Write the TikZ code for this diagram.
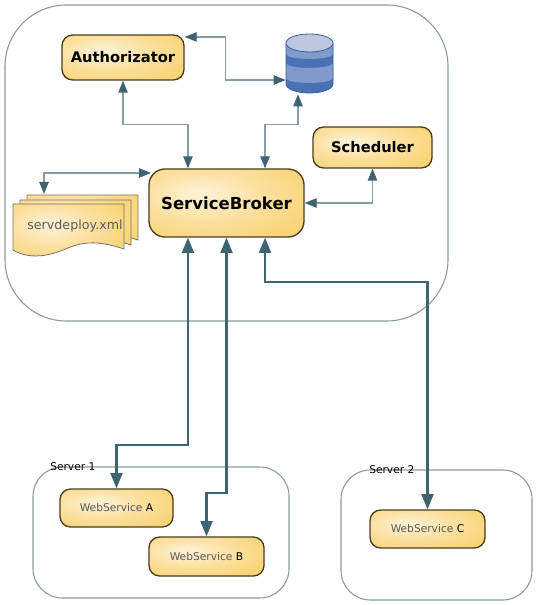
\documentclass[tikz,border=0pt]{standalone}
\usepackage{fontspec}
\setmainfont{DejaVu Sans}
\usetikzlibrary{arrows.meta,calc}
\definecolor{goldin}{HTML}{FDF0CF}
\definecolor{goldmid}{HTML}{FBE0A0}
\definecolor{goldout}{HTML}{F9D475}
\definecolor{boxedge}{HTML}{4A3D1E}
\definecolor{linkcol}{HTML}{3E6371}
\definecolor{thincol}{HTML}{8A9CA6}
\definecolor{frameedge}{HTML}{8A9A9A}
\definecolor{dbdark}{HTML}{4A70B5}
\definecolor{dblight}{HTML}{7F9ACB}
\definecolor{dbtop}{HTML}{BCC8E0}
\definecolor{dbedge}{HTML}{3D5F96}
\pgfdeclareradialshading{goldbox}{\pgfpoint{-9bp}{7bp}}{
  color(0bp)=(goldin); color(4bp)=(goldin); color(18bp)=(goldmid); color(36bp)=(goldout); color(100bp)=(goldout)}
\tikzset{
  goldnode/.style={shading=goldbox,draw=boxedge,line width=1pt,rounded corners=8pt,inner sep=0pt,align=center},
  frame/.style={draw=frameedge,line width=0.8pt,inner sep=0pt},
  thinlink/.style={draw=thincol,line width=1pt,{Triangle[length=9pt,width=7pt,color=linkcol]}-{Triangle[length=9pt,width=7pt,color=linkcol]}},
  thicklink/.style={draw=linkcol,line width=1.6pt,{Triangle[length=11.5pt,width=9pt,color=linkcol]}-{Triangle[length=11.5pt,width=9pt,color=linkcol]}},
  bigtext/.style={font=\fontsize{12.4}{15}\selectfont\bfseries},
  midtext/.style={font=\fontsize{11}{13}\selectfont\bfseries},
  smalltext/.style={font=\fontsize{8}{10}\selectfont,text=black!65},
  pagedoc/.style={draw=black!55,line width=0.6pt,shading=goldbox}
}
\begin{document}
\begin{tikzpicture}[x=0.75pt,y=-0.75pt]
\useasboundingbox[fill=white] (0,0) rectangle (536,605);
% frames
\node[frame,rounded corners=46pt,minimum width=332.25pt,minimum height=237pt] (main) at (226.5,163) {};
\node[frame,rounded corners=22pt,minimum width=192pt,minimum height=98.25pt] (srvone) at (161,532.5) {};
\node[frame,rounded corners=22pt,minimum width=143.25pt,minimum height=97.5pt] (srvtwo) at (436.5,535) {};
\node[font=\fontsize{8}{10}\selectfont,anchor=west,inner sep=0pt] (srvonelabel) at (50,467) {Server 1};
\node[font=\fontsize{8}{10}\selectfont,anchor=west,inner sep=0pt] (srvtwolabel) at (369,470) {Server 2};
% document stack
\foreach \dx/\dy in {14/-9,7/-4,0/0}{
  \path[pagedoc,shift={(\dx,\dy)}] (13,204) -- (124,204) -- (124,249)
     .. controls (100,241) and (85,241) .. (68,248)
     .. controls (50,256) and (30,260) .. (13,250) -- cycle;
}
\node[font=\fontsize{9.5}{12}\selectfont,text=black!65,inner sep=0pt] (docs) at (75,226) {servdeploy.xml};
\coordinate (docport) at (44,194);
% database
\begin{scope}
  \fill[dbdark] (286,43) -- (286,84) arc[start angle=180,end angle=360,x radius=23.5,y radius=-9] -- (333,43) -- cycle;
  \fill[dblight] (286,43) -- (286,54) arc[start angle=180,end angle=360,x radius=23.5,y radius=-5] -- (333,43) -- cycle;
  \fill[dblight] (286,63) arc[start angle=180,end angle=360,x radius=23.5,y radius=-5] -- (333,78) arc[start angle=360,end angle=180,x radius=23.5,y radius=-5] -- cycle;
  \draw[dbedge,line width=0.6pt] (286,43) -- (286,84) arc[start angle=180,end angle=360,x radius=23.5,y radius=-9] -- (333,43);
  \draw[dbedge,fill=dbtop,line width=0.6pt] (309.5,43) ellipse[x radius=23.5,y radius=9];
\end{scope}
\node[inner sep=0pt,minimum width=35.25pt,minimum height=44.25pt] (db) at (309.5,63.5) {};
% boxes
\node[goldnode,midtext,minimum width=91.5pt,minimum height=33.75pt] (auth) at (123,57.5) {Authorizator};
\node[goldnode,bigtext,rounded corners=12pt,minimum width=116.25pt,minimum height=51pt] (broker) at (226.5,203) {ServiceBroker};
\node[goldnode,midtext,minimum width=89.25pt,minimum height=30.75pt] (sched) at (372.5,147.5) {Scheduler};
\node[goldnode,smalltext,minimum width=84.75pt,minimum height=28.5pt] (wsa) at (116.5,508) {WebService {\color{black}A}};
\node[goldnode,smalltext,minimum width=86.25pt,minimum height=29.25pt] (wsb) at (206.5,556.5) {WebService {\color{black}B}};
\node[goldnode,smalltext,minimum width=86.25pt,minimum height=28.5pt] (wsc) at (427.5,529) {WebService {\color{black}C}};
% thin connectors
\draw[thinlink] (auth.south) -- ++(0,44) -| ([xshift=-28.9pt]broker.north);
\draw[thinlink] ([yshift=15.4pt]auth.east) -- ++(41,0) |- ([yshift=-12.4pt]db.west);
\draw[thinlink] ([xshift=28.9pt]broker.north) -- ++(0,-44) -| ([xshift=-8.6pt,yshift=-0.8pt]db.south);
\draw[thinlink] (docport) -- ++(0,-21) -- ([xshift=2pt,yshift=22.5pt]broker.west);
\draw[thinlink] (broker.east) -| (sched.south);
% thick connectors
\draw[thicklink] ([xshift=-28.9pt]broker.south) -- ++(0,207) -| (wsa.north);
\draw[thicklink] (broker.south) -- ++(0,255) -| (wsb.north);
\draw[thicklink] ([xshift=28.9pt]broker.south) -- ++(0,44) -| (wsc.north);
\end{tikzpicture}
\end{document}
